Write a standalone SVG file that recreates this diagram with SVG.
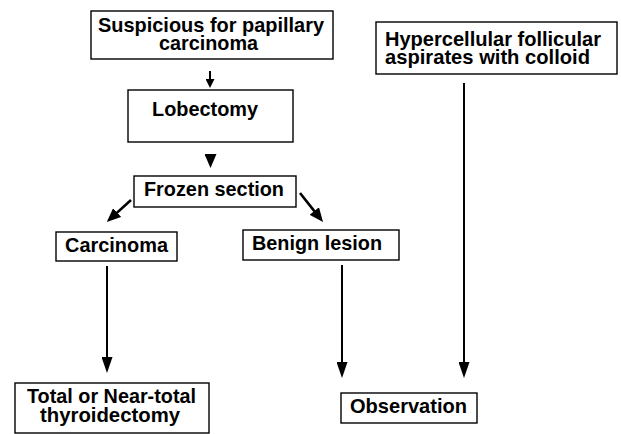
<svg xmlns="http://www.w3.org/2000/svg" width="621" height="434" viewBox="0 0 621 434">
<defs>
<style>
.box{fill:#fff;stroke:#000;stroke-width:1.4}
.t{font-family:"Liberation Sans",Arial,Helvetica,sans-serif;font-weight:bold;font-size:20.5px;fill:#000}
.m{text-anchor:middle}
.c{stroke:#000;stroke-width:2;fill:none}
.d{stroke:#000;stroke-width:2.6;fill:none}
</style>
<marker id="big" markerUnits="userSpaceOnUse" markerWidth="16" markerHeight="11" refX="12" refY="5.5" orient="auto"><path d="M0,0 L16,5.5 L0,11 z" fill="#000"/></marker>
<marker id="mid" markerUnits="userSpaceOnUse" markerWidth="14" markerHeight="12" refX="9" refY="6" orient="auto"><path d="M0,0 L14,6 L0,12 z" fill="#000"/></marker>
<marker id="small" markerUnits="userSpaceOnUse" markerWidth="9" markerHeight="9" refX="6" refY="4.5" orient="auto"><path d="M0,0 L9,4.5 L0,9 z" fill="#000"/></marker>
</defs>
<rect width="621" height="434" fill="#fff"/>
<g id="connectors">
<line class="c" x1="210" y1="71" x2="210" y2="85" marker-end="url(#small)"/>
<line class="c" x1="210.5" y1="155" x2="210.5" y2="163" marker-end="url(#mid)"/>
<line class="d" x1="131" y1="200" x2="110.5" y2="218.6" marker-end="url(#mid)"/>
<line class="d" x1="300" y1="193" x2="319.9" y2="218.1" marker-end="url(#mid)"/>
<line class="c" x1="107" y1="266" x2="107" y2="369" marker-end="url(#big)"/>
<line class="c" x1="342" y1="265" x2="342" y2="374" marker-end="url(#big)"/>
<line class="c" x1="464" y1="83" x2="464" y2="374" marker-end="url(#big)"/>
</g>
<g id="suspicious">
<rect class="box" x="91" y="11" width="242" height="48"/>
<text class="t m" x="211" y="32" textLength="226" lengthAdjust="spacingAndGlyphs">Suspicious for papillary</text>
<text class="t m" x="208.5" y="50" textLength="99" lengthAdjust="spacingAndGlyphs">carcinoma</text>
</g>
<g id="lobectomy">
<rect class="box" x="128" y="90" width="165" height="52"/>
<text class="t m" x="205" y="115.5" textLength="106" lengthAdjust="spacingAndGlyphs">Lobectomy</text>
</g>
<g id="frozen">
<rect class="box" x="134" y="176" width="162" height="31"/>
<text class="t m" x="214" y="195.5" textLength="140" lengthAdjust="spacingAndGlyphs">Frozen section</text>
</g>
<g id="carcinoma">
<rect class="box" x="56" y="232" width="121" height="29"/>
<text class="t m" x="116.5" y="251.5" textLength="103" lengthAdjust="spacingAndGlyphs">Carcinoma</text>
</g>
<g id="benign">
<rect class="box" x="243" y="230" width="156" height="30"/>
<text class="t m" x="317" y="250" textLength="130" lengthAdjust="spacingAndGlyphs">Benign lesion</text>
</g>
<g id="total">
<rect class="box" x="15" y="383" width="194" height="50"/>
<text class="t m" x="111.5" y="403" textLength="169" lengthAdjust="spacingAndGlyphs">Total or Near-total</text>
<text class="t m" x="110" y="421.5" textLength="140" lengthAdjust="spacingAndGlyphs">thyroidectomy</text>
</g>
<g id="observation">
<rect class="box" x="341" y="393" width="136" height="30"/>
<text class="t m" x="408.5" y="412.5" textLength="117" lengthAdjust="spacingAndGlyphs">Observation</text>
</g>
<g id="hypercellular">
<rect class="box" x="376" y="22" width="241" height="52"/>
<text class="t" x="385" y="45.5" textLength="216" lengthAdjust="spacingAndGlyphs">Hypercellular follicular</text>
<text class="t" x="385" y="63.5" textLength="205" lengthAdjust="spacingAndGlyphs">aspirates with colloid</text>
</g>
</svg>
